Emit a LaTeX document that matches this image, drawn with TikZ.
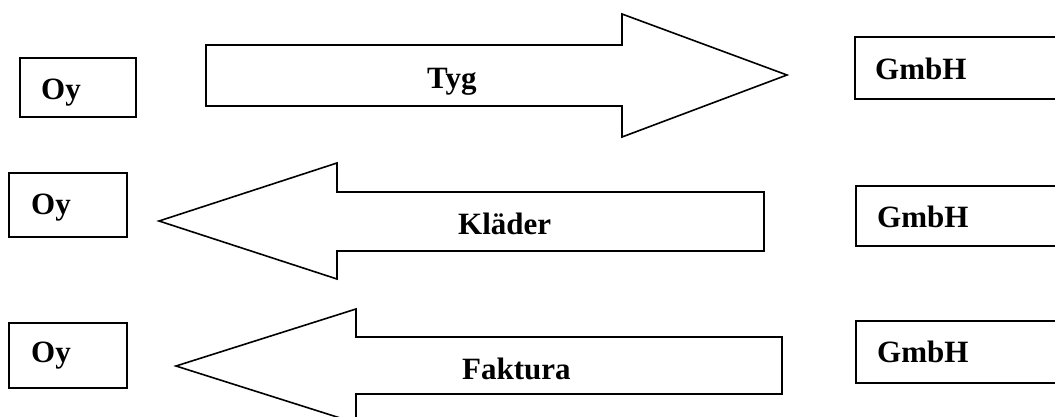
\documentclass[tikz,border=0pt]{standalone}
\usepackage{fontspec}
\setmainfont{Liberation Serif}
\begin{document}
\begin{tikzpicture}[x=1pt,y=-1pt,
  shapeline/.style={draw=black,line width=1.6pt,line join=miter},
  lbl/.style={anchor=base west,inner sep=0pt,font=\fontsize{31}{31}\selectfont\bfseries}]
\clip (0,0) rectangle (1055,416);
\fill[white] (0,0) rectangle (1055,416);
% boxes
\draw[shapeline] (20,58) rectangle (136,117);
\draw[shapeline] (9,173) rectangle (127,237);
\draw[shapeline] (9,323) rectangle (127,388);
\draw[shapeline] (855,37) rectangle (1075,99);
\draw[shapeline] (856,186) rectangle (1075,246);
\draw[shapeline] (856,321) rectangle (1075,383);
% arrows
\draw[shapeline] (206,45) -- (622,45) -- (622,14) -- (787,75) -- (622,137) -- (622,106) -- (206,106) -- cycle;
\draw[shapeline] (764,192) -- (337,192) -- (337,163) -- (159,221) -- (337,279) -- (337,251) -- (764,251) -- cycle;
\draw[shapeline] (782,337) -- (356,337) -- (356,309) -- (176,366) -- (356,423) -- (356,394) -- (782,394) -- cycle;
% labels
\node[lbl] (oy1) at (41,99) {Oy};
\node[lbl] (oy2) at (31,214) {Oy};
\node[lbl] (oy3) at (31,362) {Oy};
\node[lbl] (g1) at (875,79) {GmbH};
\node[lbl] (g2) at (877,227) {GmbH};
\node[lbl] (g3) at (877,362) {GmbH};
\node[lbl] (tyg) at (427,88) {Tyg};
\node[lbl] (klader) at (458,234) {Kläder};
\node[lbl] (faktura) at (462,379) {Faktura};
\end{tikzpicture}
\end{document}
